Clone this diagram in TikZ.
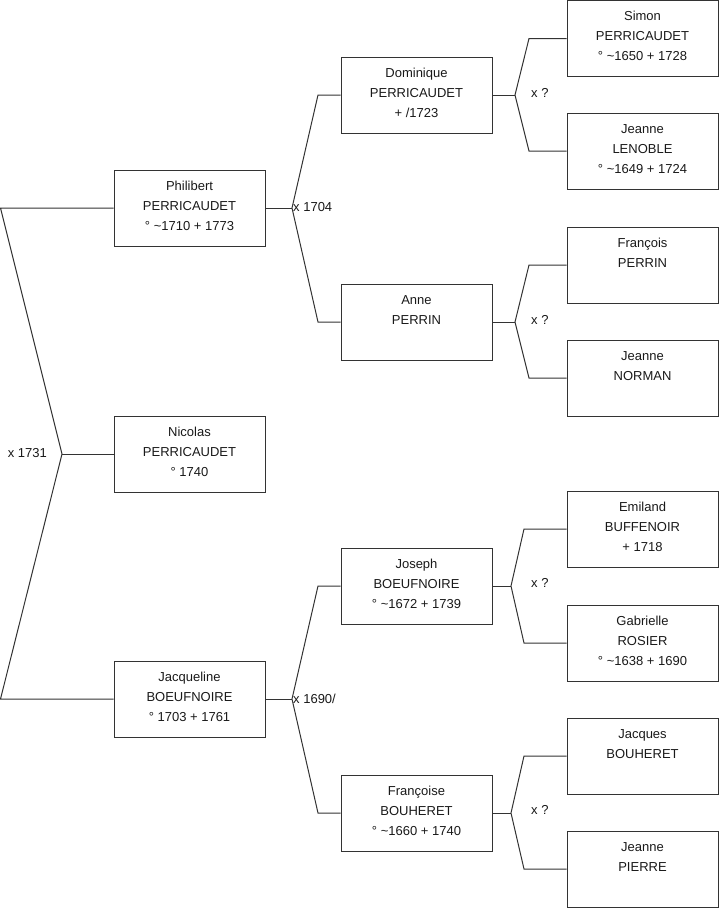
\documentclass[tikz,border=0pt]{standalone}
\usepackage{fontspec}
\setmainfont{Liberation Sans}
\begin{document}
\begin{tikzpicture}[x=1pt,y=-1pt,
  box/.style={draw=black!80,line width=1pt,minimum width=151pt,minimum height=76pt,inner sep=0pt},
  txt/.style={anchor=north,inner sep=0pt,align=center,font=\fontsize{13}{20}\selectfont,text=black!90},
  conn/.style={draw=black!80,line width=1pt},
  marr/.style={inner sep=0pt,font=\fontsize{13}{16}\selectfont,text=black!90}]
\useasboundingbox (0,0) rectangle (719,908);
\newcommand\person[4]{\node[box] (#1) at (#2,#3) {};\node[txt] at (#1.north) {\rule{0pt}{20.6pt}#4};}
% column A
\person{phil}{189.5}{208}{Philibert\\PERRICAUDET\\° \textasciitilde1710 + 1773}
\person{nico}{189.5}{454}{Nicolas\\PERRICAUDET\\° 1740}
\person{jacq}{189.5}{699}{Jacqueline\\BOEUFNOIRE\\° 1703 + 1761}
% column B
\person{domi}{416.5}{95}{Dominique\\PERRICAUDET\\+ /1723}
\person{anne}{416.5}{322}{Anne\\PERRIN}
\person{jose}{416.5}{586}{Joseph\\BOEUFNOIRE\\° \textasciitilde1672 + 1739}
\person{fran}{416.5}{813}{Françoise\\BOUHERET\\° \textasciitilde1660 + 1740}
% column C
\person{simon}{642.5}{38.5}{Simon\\PERRICAUDET\\° \textasciitilde1650 + 1728}
\person{jlen}{642.5}{151}{Jeanne\\LENOBLE\\° \textasciitilde1649 + 1724}
\person{franc}{642.5}{265}{François\\PERRIN}
\person{jnor}{642.5}{378}{Jeanne\\NORMAN}
\person{emil}{642.5}{529}{Emiland\\BUFFENOIR\\+ 1718}
\person{gabr}{642.5}{643}{Gabrielle\\ROSIER\\° \textasciitilde1638 + 1690}
\person{jacques}{642.5}{756}{Jacques\\BOUHERET}
\person{jpie}{642.5}{869}{Jeanne\\PIERRE}
% level 1
\coordinate (f1) at (62,454);
\coordinate (a1) at (0.5,208);
\coordinate (b1) at (0.5,699);
\draw[conn] (phil.west) -- (a1) -- (f1) -- (b1) -- (jacq.west);
\draw[conn] (nico.west) -- (f1);
\node[marr,anchor=east] (m1) at (47,453) {x 1731};
% level 2
\coordinate (f2) at (292,208);
\coordinate (a2) at (318,95);
\coordinate (b2) at (318,322);
\draw[conn] (phil.east) -- (f2);
\draw[conn] (domi.west) -- (a2) -- (f2) -- (b2) -- (anne.west);
\node[marr,anchor=west] (m2) at (293,207) {x 1704};
\coordinate (f3) at (292,699);
\coordinate (a3) at (318,586);
\coordinate (b3) at (318,813);
\draw[conn] (jacq.east) -- (f3);
\draw[conn] (jose.west) -- (a3) -- (f3) -- (b3) -- (fran.west);
\node[marr,anchor=west] (m3) at (293,699) {x 1690/};
% level 3
\coordinate (f4) at (515,95);
\coordinate (a4) at (529,38.5);
\coordinate (b4) at (529,151);
\draw[conn] (domi.east) -- (f4);
\draw[conn] (simon.west) -- (a4) -- (f4) -- (b4) -- (jlen.west);
\node[marr,anchor=west] (m4) at (531,93) {x ?};
\coordinate (f5) at (515,322);
\coordinate (a5) at (529,265);
\coordinate (b5) at (529,378);
\draw[conn] (anne.east) -- (f5);
\draw[conn] (franc.west) -- (a5) -- (f5) -- (b5) -- (jnor.west);
\node[marr,anchor=west] (m5) at (531,320) {x ?};
\coordinate (f6) at (511,586);
\coordinate (a6) at (524,529);
\coordinate (b6) at (524,643);
\draw[conn] (jose.east) -- (f6);
\draw[conn] (emil.west) -- (a6) -- (f6) -- (b6) -- (gabr.west);
\node[marr,anchor=west] (m6) at (531,583) {x ?};
\coordinate (f7) at (511,813);
\coordinate (a7) at (524,756);
\coordinate (b7) at (524,869);
\draw[conn] (fran.east) -- (f7);
\draw[conn] (jacques.west) -- (a7) -- (f7) -- (b7) -- (jpie.west);
\node[marr,anchor=west] (m7) at (531,810) {x ?};
\end{tikzpicture}
\end{document}
